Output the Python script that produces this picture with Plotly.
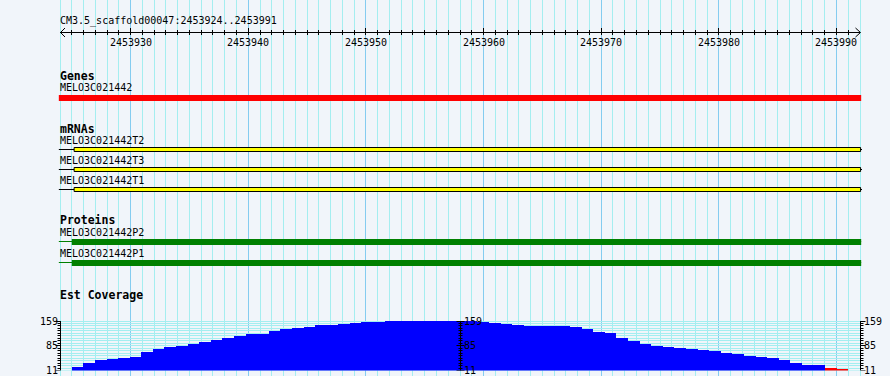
import math
import plotly.graph_objects as go

# ---------------- data ----------------
ref_name = "CM3.5_scaffold00047"
view_start = 2453924
view_end = 2453991
ruler_labels = [2453930, 2453940, 2453950, 2453960, 2453970, 2453980, 2453990]

track_titles = ["Genes", "mRNAs", "Proteins", "Est Coverage"]

gene_names = ["MELO3C021442"]
gene_starts = [2453923.9]
gene_ends = [2453992.1]

mrna_names = ["MELO3C021442T2", "MELO3C021442T3", "MELO3C021442T1"]
mrna_starts = [2453923.9, 2453923.9, 2453923.9]
mrna_box_starts = [2453925.2, 2453925.2, 2453925.2]
mrna_box_ends = [2453992.05, 2453992.05, 2453992.05]
mrna_ends = [2453992.17, 2453992.17, 2453992.17]

protein_names = ["MELO3C021442P2", "MELO3C021442P1"]
protein_starts = [2453923.9, 2453923.9]
protein_cds_starts = [2453925.0, 2453925.0]
protein_ends = [2453992.1, 2453992.1]

cov_start = 2453925
cov_end = 2453991
coverage = [20, 32, 41, 45, 48, 51, 66, 75, 80, 83,
            89, 96, 102, 108, 114, 120, 120, 129, 135, 138,
            141, 147, 147, 150, 153, 157, 157, 159, 159, 159,
            159, 159, 159, 159, 159, 157, 153, 150, 147, 144,
            144, 144, 144, 141, 135, 127, 123, 108, 100, 89,
            83, 80, 77, 74, 72, 69, 63, 60, 54, 51,
            48, 42, 33, 27, 27, 19, 15]
cov_min, cov_mid, cov_max = 11, 85, 159
low_threshold = 20

# ---------------- layout constants ----------------
W, H = 890, 376
PX_LEFT, PX_RIGHT = 60, 860
bp_per_px = (view_end + 1 - view_start) / (PX_RIGHT - PX_LEFT)
x_range = [view_start - PX_LEFT * bp_per_px, view_start + (W - PX_LEFT) * bp_per_px]

BG = "#F1F5FA"
GRID_MINOR = "#A4EEF0"
GRID_MAJOR = "#84CCF0"
FONT = "DejaVu Sans Mono"

COV_TOP_PX, COV_BOT_PX = 321.0, 370.5

shapes = []
annotations = []


def x_to_px(x):
    return (x - x_range[0]) / (x_range[1] - x_range[0]) * W


def y2_to_px(v):
    return COV_TOP_PX + (cov_max - v) / (cov_max - cov_min) * (COV_BOT_PX - COV_TOP_PX)


def text(x, y, s, anchor="left", bold=False, size=10, xshift=0, yref="y"):
    annotations.append(dict(
        x=x, y=y, xref="x", yref=yref, text=("<b>%s</b>" % s) if bold else s,
        showarrow=False, xanchor=anchor, yanchor="middle", xshift=xshift,
        font=dict(family=FONT, size=size, color="black"), borderpad=0, borderwidth=0))


def vline(x, y0, y1, color, layer="above", yref="y", width=1):
    # crisp 1px vertical line snapped to the pixel grid
    px = x_to_px(x)
    off = math.floor(px) + 0.5 - px
    shapes.append(dict(type="line", xref="x", xsizemode="pixel", xanchor=x, x0=off, x1=off,
                       yref=yref, y0=y0, y1=y1,
                       line=dict(color=color, width=width), layer=layer))


def hline(x0, x1, y, color, layer="above", yref="y", width=1):
    shapes.append(dict(type="line", xref="x", yref=yref, x0=x0, x1=x1, y0=y, y1=y,
                       line=dict(color=color, width=width), layer=layer))


def hline_y2(x0, x1, v, color, layer="above"):
    # crisp horizontal line on the coverage axis
    py = y2_to_px(v)
    off = py - (math.floor(py) + 0.5)
    shapes.append(dict(type="line", xref="x", x0=x0, x1=x1, yref="y2", ysizemode="pixel",
                       yanchor=v, y0=off, y1=off, line=dict(color=color, width=1), layer=layer))


def pix_line(xanchor, px0, px1, y0, y1, yref="y", color="black"):
    shapes.append(dict(type="line", xref="x", xsizemode="pixel", xanchor=xanchor,
                       x0=px0, x1=px1, yref=yref, y0=y0, y1=y1,
                       line=dict(color=color, width=1), layer="above"))


def tick_y2(xanchor, px0, px1, v):
    px = x_to_px(xanchor)
    base = math.floor(px) + 0.5 - px
    py = y2_to_px(v)
    off = py - (math.floor(py) + 0.5)
    shapes.append(dict(type="line", xref="x", xsizemode="pixel", xanchor=xanchor,
                       x0=base + px0, x1=base + px1, yref="y2", ysizemode="pixel", yanchor=v,
                       y0=off, y1=off, line=dict(color="black", width=1), layer="above"))


# vertical grid
for p in range(view_start, view_end + 2):
    vline(p, 0, H, GRID_MAJOR if p % 10 == 0 else GRID_MINOR, layer="below")

# ---------------- ruler ----------------
text(view_start, 20.5, "%s:%d..%d" % (ref_name, view_start, view_end), xshift=0)
RULER_Y = 32.5
hline(view_start, view_end + 1, RULER_Y, "black")
pix_line(view_start, 0.5, 5, RULER_Y, RULER_Y - 4.5)
pix_line(view_start, 0.5, 5, RULER_Y, RULER_Y + 4.5)
pix_line(view_end + 1, 0.5, -4.5, RULER_Y, RULER_Y - 4.5)
pix_line(view_end + 1, 0.5, -4.5, RULER_Y, RULER_Y + 4.5)
for p in range(view_start + 1, view_end + 1):
    vline(p, 28 if p % 10 == 0 else 30, 35, "black")
for p in ruler_labels:
    text(p, 42, str(p), anchor="center")

# ---------------- genes ----------------
text(view_start, 76, track_titles[0], bold=True, size=11.5)
for i, name in enumerate(gene_names):
    text(view_start, 87.5, name)
    shapes.append(dict(type="rect", xref="x", yref="y", x0=gene_starts[i], x1=gene_ends[i],
                       y0=95, y1=101, fillcolor="#FF0000", line=dict(width=0), layer="above"))

# ---------------- mRNAs ----------------
text(view_start, 128.5, track_titles[1], bold=True, size=11.5)
for i, name in enumerate(mrna_names):
    yc = 149.5 + 20 * i
    text(view_start, 140 + 20 * i, name)
    hline(mrna_starts[i], mrna_ends[i], yc, "black")
    shapes.append(dict(type="rect", xref="x", yref="y", x0=mrna_box_starts[i], x1=mrna_box_ends[i],
                       y0=yc - 2, y1=yc + 2, fillcolor="#FFFF00",
                       line=dict(color="black", width=1), layer="above"))

# ---------------- proteins ----------------
text(view_start, 220, track_titles[2], bold=True, size=11.5)
for i, name in enumerate(protein_names):
    y0 = 239 + 21 * i
    text(view_start, 232.5 + 21 * i, name)
    hline(protein_starts[i], protein_ends[i], y0 + 2.5, "#008000")
    shapes.append(dict(type="rect", xref="x", yref="y", x0=protein_cds_starts[i], x1=protein_ends[i],
                       y0=y0, y1=y0 + 6, fillcolor="#008000", line=dict(width=0), layer="above"))

# ---------------- coverage ----------------
text(view_start, 294.5, track_titles[3], bold=True, size=11.5)
n = len(coverage)
edges = [cov_start + (cov_end - cov_start) * i / n for i in range(n + 1)]
centers = [(edges[i] + edges[i + 1]) / 2 for i in range(n)]
widths = [edges[i + 1] - edges[i] for i in range(n)]
colors = ["#FF0000" if v < low_threshold else "#0000FF" for v in coverage]

n_ticks = 20
cov_ticks = [cov_min + (cov_max - cov_min) * k / n_ticks for k in range(n_ticks + 1)]
for t in cov_ticks:
    hline_y2(view_start, view_end + 1, t, GRID_MINOR, layer="below")

mid_x = (view_start + view_end + 1) / 2
axes_def = [(view_start, "left"), (mid_x, "mid"), (view_end + 1, "right")]
for ax_x, side in axes_def:
    vline(ax_x, cov_min, cov_max, "black", yref="y2")
    for t in cov_ticks:
        major = t in (cov_min, cov_mid, cov_max)
        ln = 5 if major else 3
        if side == "left":
            tick_y2(ax_x, -ln, 0, t)
        elif side == "right":
            tick_y2(ax_x, 0, ln, t)
        else:
            tick_y2(ax_x, -ln + 1, ln - 1, t)
    for lab in (cov_min, cov_mid, cov_max):
        if side == "left":
            text(ax_x, lab, str(lab), anchor="right", xshift=-2, yref="y2")
        else:
            text(ax_x, lab, str(lab), anchor="left", xshift=4, yref="y2")

fig = go.Figure()
fig.add_trace(go.Scatter(x=[], y=[], xaxis="x", yaxis="y", showlegend=False))
fig.add_trace(go.Bar(x=centers, y=coverage, width=widths, marker=dict(color=colors, line=dict(width=0)),
                     xaxis="x", yaxis="y2", showlegend=False, hoverinfo="skip"))

fig.update_layout(
    width=W, height=H, margin=dict(l=0, r=0, t=0, b=0),
    paper_bgcolor=BG, plot_bgcolor="rgba(0,0,0,0)",
    xaxis=dict(range=x_range, domain=[0, 1], visible=False, fixedrange=True),
    yaxis=dict(range=[H, 0], domain=[0, 1], visible=False, fixedrange=True),
    yaxis2=dict(range=[cov_min, cov_max], domain=[(H - COV_BOT_PX) / H, (H - COV_TOP_PX) / H],
                anchor="x", visible=False, fixedrange=True),
    bargap=0, shapes=shapes, annotations=annotations, showlegend=False,
)

fig.write_html(
    "out.html",
    config={"displayModeBar": False, "staticPlot": True},
    post_script="document.body.style.margin='0';document.body.style.padding='0';"
                "document.body.style.overflow='hidden';document.body.style.background='%s';" % BG,
)
